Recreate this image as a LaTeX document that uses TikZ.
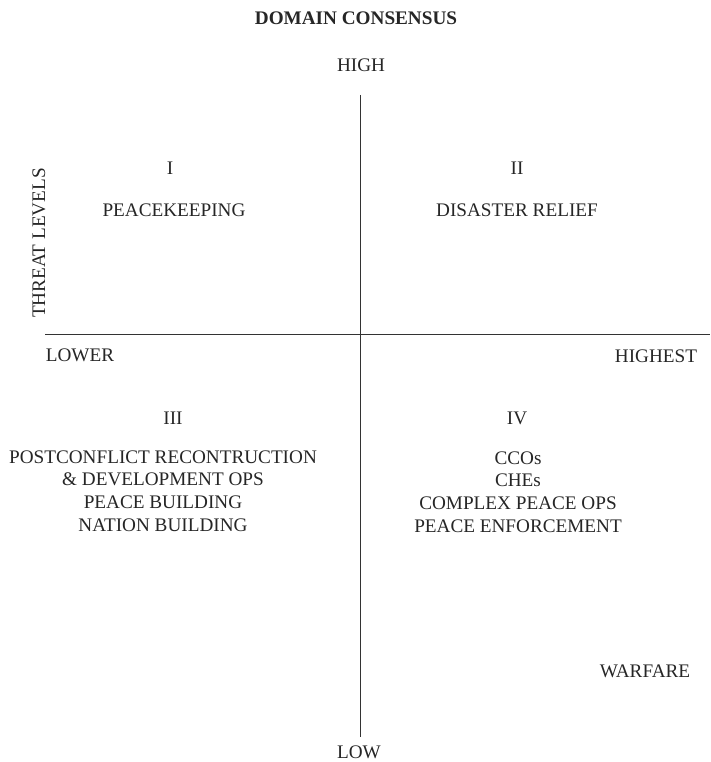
\documentclass[tikz,border=0pt]{standalone}
\usepackage{fontspec}
\setmainfont{Liberation Serif}
\usetikzlibrary{positioning}

\begin{document}
\begin{tikzpicture}[
	x=1pt, y=-1pt,
	axis/.style = {draw=black!80, line width=0.8pt},
	lbl/.style = {inner sep=0pt, text=black!85, font=\fontsize{19.2}{22.8}\selectfont, align=center}
	]
	\useasboundingbox (0,0) rectangle (710,762);

	\coordinate (top) at (360,95);
	\coordinate (bot) at (360,737);
	\coordinate (west) at (45,334);
	\coordinate (east) at (710,334);

	\draw[axis] (top) -- (bot);
	\draw[axis] (west) -- (east);

	\node[lbl, font=\fontsize{19.2}{22.8}\selectfont\bfseries] (title) at (356,18) {DOMAIN CONSENSUS};
	\node[lbl] (high) at (361,65) {HIGH};
	\node[lbl] (low) at (359,752) {LOW};
	\node[lbl, rotate=90] (threat) at (39,243) {THREAT LEVELS};
	\node[lbl] (lower) at (80,355) {LOWER};
	\node[lbl] (highest) at (656,356) {HIGHEST};

	% quadrants
	\node[lbl] (q1) at (170,168) {I};
	\node[lbl] (q1text) at (174,210) {PEACEKEEPING};
	\node[lbl] (q2) at (517,168) {II};
	\node[lbl] (q2text) at (517,210) {DISASTER RELIEF};
	\node[lbl] (q3) at (173,418) {III};
	\node[lbl] (q3text) at (163,491) {POSTCONFLICT RECONTRUCTION\\ \& DEVELOPMENT OPS\\ PEACE BUILDING\\ NATION BUILDING};
	\node[lbl] (q4) at (517,418) {IV};
	\node[lbl] (q4text) at (518,492) {CCOs\\ CHEs\\ COMPLEX PEACE OPS\\ PEACE ENFORCEMENT};
	\node[lbl] (war) at (645,671) {WARFARE};
\end{tikzpicture}
\end{document}
